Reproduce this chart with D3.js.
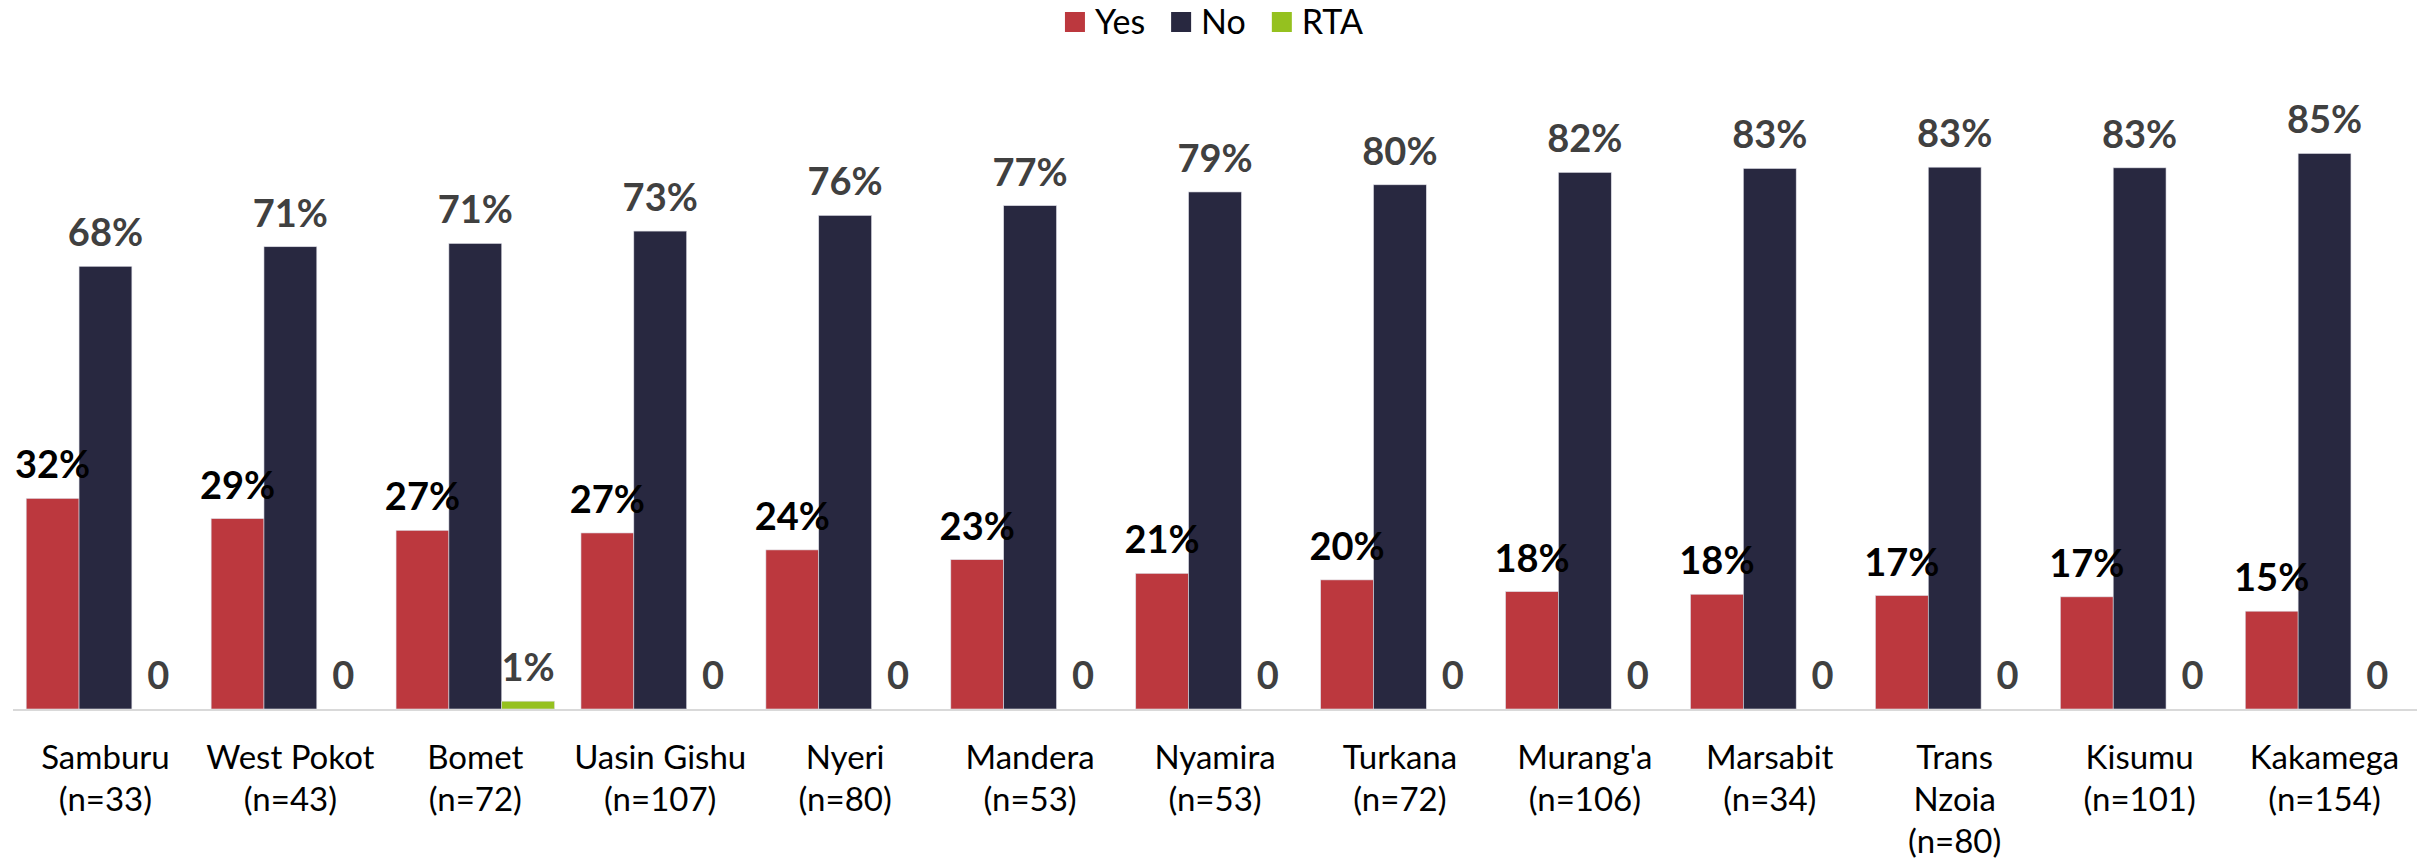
<!DOCTYPE html>
<html>
<head>
<meta charset="utf-8">
<script src="https://cdn.jsdelivr.net/npm/d3@7/dist/d3.min.js"></script>
<style>
  html, body { margin: 0; padding: 0; background: #fff; }
  svg { display: block; font-family: Lato, "Open Sans", sans-serif; }
</style>
</head>
<body>
<svg class="chart" width="2430" height="863"></svg>
<script>
// counties (label lines) and sample sizes
const counties = ["Samburu", "West Pokot", "Bomet", "Uasin Gishu", "Nyeri", "Mandera", "Nyamira",
                  "Turkana", "Murang'a", "Marsabit", "Trans\nNzoia", "Kisumu", "Kakamega"];
const sampleN = [33, 43, 72, 107, 80, 53, 53, 72, 106, 34, 80, 101, 154];

const seriesNames = ["Yes", "No", "RTA"];
const yesVals = [32.3, 29.2, 27.4, 27.0, 24.4, 22.9, 20.8, 19.8, 18.0, 17.6, 17.4, 17.2, 15.0];
const noVals  = [67.9, 70.9, 71.4, 73.3, 75.7, 77.2, 79.3, 80.4, 82.3, 82.9, 83.1, 83.0, 85.2];
const rtaVals = [0, 0, 1.2, 0, 0, 0, 0, 0, 0, 0, 0, 0, 0];

const colours = ["#bc383e", "#282840", "#95c11f"];
const labelColours = ["#000000", "#404040", "#404040"];

function drawChart(){
  const svg = d3.select('svg.chart');
  const width = 2430;
  const baseY = 709;

  const rows = counties.map((c, i) => ({
    key: c,
    lines: c.split('\n').concat([`(n=${sampleN[i]})`]),
    vals: [yesVals[i], noVals[i], rtaVals[i]]
  }));

  const x0 = d3.scaleBand()
      .domain(counties)
      .range([13, 2417])
      .paddingInner(0)
      .paddingOuter(0);

  const x1 = d3.scaleBand()
      .domain(seriesNames)
      .range([0, x0.bandwidth()])
      .paddingInner(0)
      .paddingOuter(0.25);

  const y = d3.scaleLinear()
      .domain([0, 100])
      .range([baseY, 57]);

  const colScale = d3.scaleOrdinal().domain(seriesNames).range(colours);
  const labScale = d3.scaleOrdinal().domain(seriesNames).range(labelColours);

  const groups = svg.append('g')
      .selectAll('g.county')
      .data(rows)
      .enter()
      .append('g')
      .classed('county', true)
      .attr('transform', d => `translate(${x0(d.key)},0)`);

  const cells = d => d.vals.map((v, j) => ({ s: seriesNames[j], v: v }));

  groups.selectAll('rect')
      .data(cells)
      .enter()
      .append('rect')
      .attr('x', d => x1(d.s))
      .attr('width', x1.bandwidth())
      .attr('y', d => y(d.v))
      .attr('height', d => baseY - y(d.v))
      .style('fill', d => colScale(d.s))
      .style('stroke', d => d.v > 0 ? '#dcdce4' : 'none')
      .style('stroke-width', 0.6);

  // axis line
  svg.append('line')
      .attr('x1', x0.range()[0])
      .attr('x2', x0.range()[1])
      .attr('y1', baseY + 1)
      .attr('y2', baseY + 1)
      .style('stroke', '#d9d9d9')
      .style('stroke-width', 2);

  // value labels
  groups.selectAll('text.val')
      .data(cells)
      .enter()
      .append('text')
      .classed('val', true)
      .attr('x', d => x1(d.s) + x1.bandwidth() / 2)
      .attr('y', d => y(d.v) - 20)
      .attr('text-anchor', 'middle')
      .style('font-size', '38px')
      .style('font-weight', 700)
      .style('fill', d => labScale(d.s))
      .text(d => d.v === 0 ? '0' : `${Math.round(d.v)}%`);

  // category labels
  groups.append('text')
      .classed('cat', true)
      .attr('x', x0.bandwidth() / 2)
      .attr('y', 769)
      .attr('text-anchor', 'middle')
      .style('font-size', '33px')
      .style('fill', '#000')
      .selectAll('tspan')
      .data(d => d.lines)
      .enter()
      .append('tspan')
      .attr('x', x0.bandwidth() / 2)
      .attr('dy', (d, i) => i ? 42 : 0)
      .text(d => d);

  // legend
  const legend = svg.append('g').classed('legend', true);
  const items = legend.selectAll('g')
      .data(seriesNames)
      .enter()
      .append('g');

  items.append('rect')
      .attr('width', 20)
      .attr('height', 20)
      .attr('y', 12)
      .style('fill', d => colScale(d));

  items.append('text')
      .attr('x', 30)
      .attr('y', 34)
      .style('font-size', '34px')
      .style('fill', '#000')
      .text(d => d);

  let pos = 0;
  const widths = [];
  items.each(function(){ widths.push(this.getBBox().width); });
  const total = d3.sum(widths) + 26 * (widths.length - 1);
  pos = 1214 - total / 2;
  items.attr('transform', (d, i) => {
    const t = `translate(${pos},0)`;
    pos += widths[i] + 26;
    return t;
  });
}

drawChart();
</script>
</body>
</html>
